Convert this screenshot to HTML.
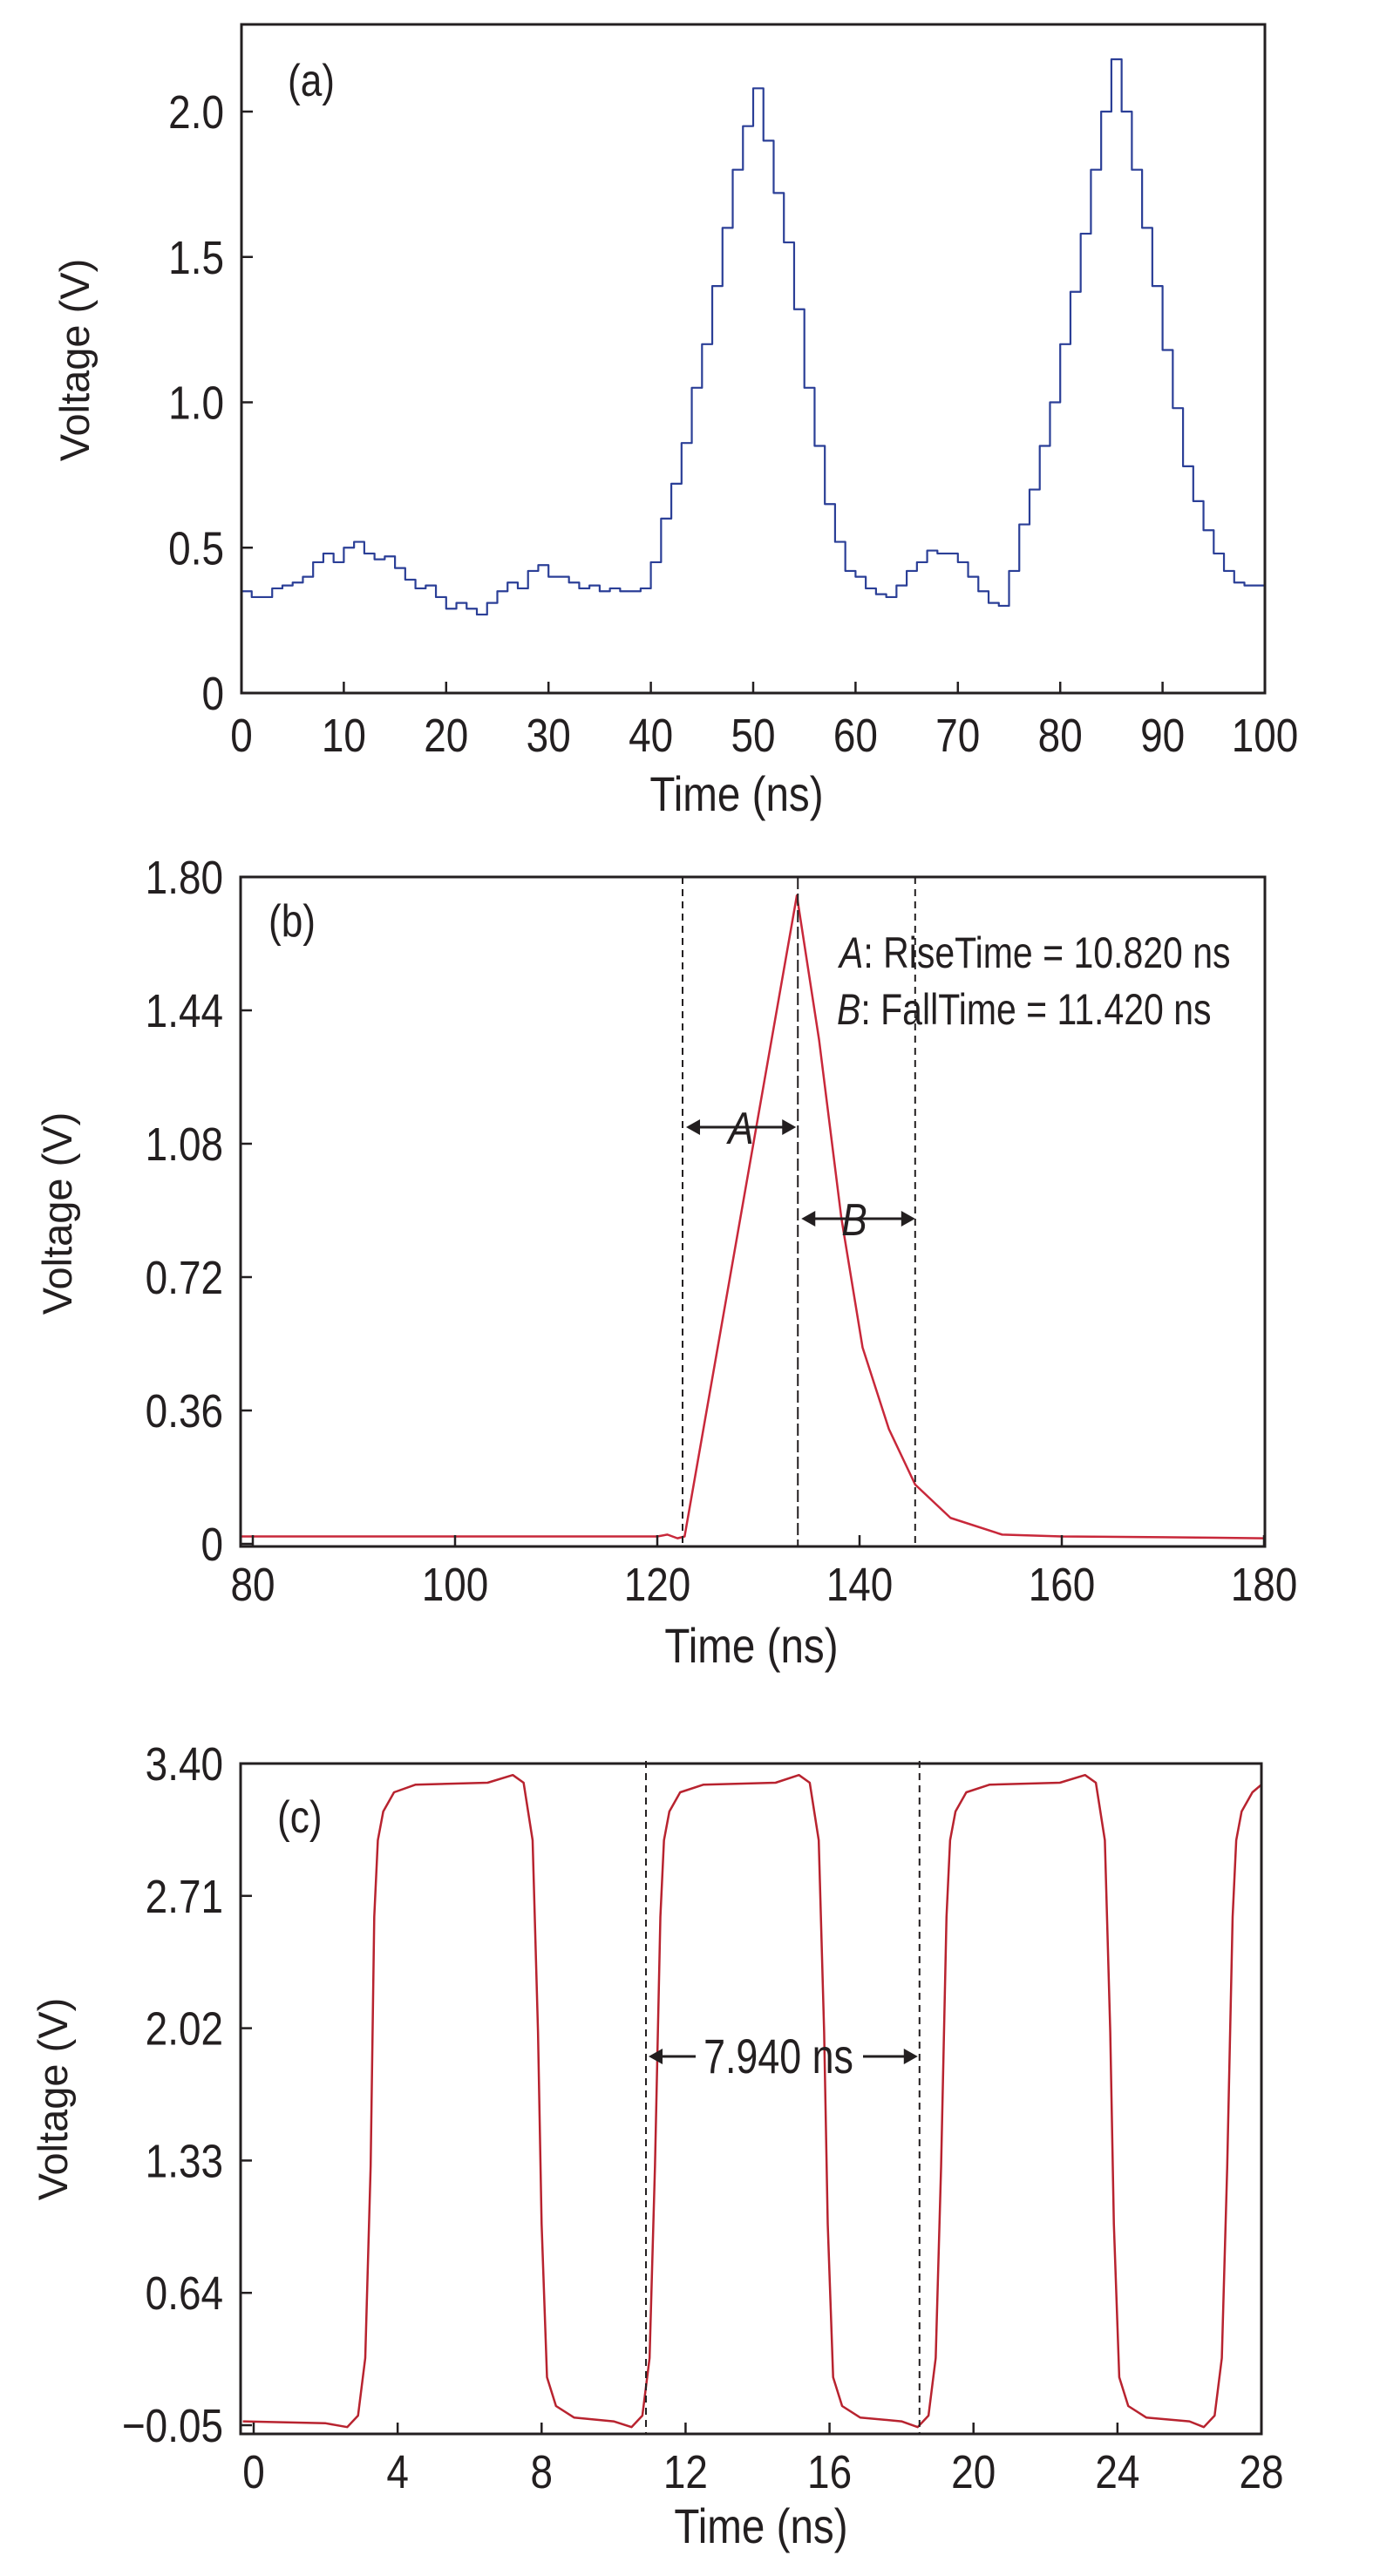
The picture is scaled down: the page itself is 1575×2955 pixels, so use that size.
<!DOCTYPE html>
<html><head><meta charset="utf-8"><style>
html,body{margin:0;padding:0;background:#fff;}
svg{display:block;}
</style></head><body>
<svg id="fig" width="1575" height="2955" viewBox="0 0 1575 2955" xmlns="http://www.w3.org/2000/svg"></svg>
<script>
// ---------- Panel (a) data ----------
const aTimes = [0,1,2,3,4,5,6,7,8,9,10,11,12,13,14,15,16,17,18,19,20,21,22,23,24,25,26,27,28,29,30,31,32,33,34,35,36,37,38,39,40,41,42,43,44,45,46,47,48,49,50,51,52,53,54,55,56,57,58,59,60,61,62,63,64,65,66,67,68,69,70,71,72,73,74,75,76,77,78,79,80,81,82,83,84,85,86,87,88,89,90,91,92,93,94,95,96,97,98,99,100];
const aVolts = [0.35,0.33,0.33,0.36,0.37,0.38,0.40,0.45,0.48,0.45,0.50,0.52,0.48,0.46,0.47,0.43,0.39,0.36,0.37,0.33,0.29,0.31,0.29,0.27,0.31,0.35,0.38,0.36,0.42,0.44,0.40,0.40,0.38,0.36,0.37,0.35,0.36,0.35,0.35,0.36,0.45,0.60,0.72,0.86,1.05,1.20,1.40,1.60,1.80,1.95,2.08,1.90,1.72,1.55,1.32,1.05,0.85,0.65,0.52,0.42,0.40,0.36,0.34,0.33,0.37,0.42,0.45,0.49,0.48,0.48,0.45,0.40,0.35,0.31,0.30,0.42,0.58,0.70,0.85,1.00,1.20,1.38,1.58,1.80,2.00,2.18,2.00,1.80,1.60,1.40,1.18,0.98,0.78,0.66,0.56,0.48,0.42,0.38,0.37,0.37,0.35];
const aXTicks = [0,10,20,30,40,50,60,70,80,90,100];
const aYTicks = [0,0.5,1.0,1.5,2.0];
const aYLabels = ["0","0.5","1.0","1.5","2.0"];

// ---------- Panel (b) data ----------
const bTimes = [78.8,100,120,121,122,122.7,133.8,136.0,138.2,140.3,142.9,145.5,149.0,154.1,160,170,180];
const bVolts = [0.02,0.02,0.02,0.025,0.015,0.02,1.75,1.36,0.88,0.53,0.31,0.16,0.07,0.025,0.02,0.018,0.015];
const bXTicks = [80,100,120,140,160,180];
const bYTicks = [0,0.36,0.72,1.08,1.44,1.80];
const bYLabels = ["0","0.36","0.72","1.08","1.44","1.80"];
const bMarkers = [122.5,133.9,145.5];

// ---------- Panel (c) data ----------
const cTimes = [-0.3,2.0,2.6,2.9,3.1,3.25,3.35,3.45,3.6,3.9,4.5,6.5,7.2,7.5,7.75,7.9,8.0,8.15,8.4,8.9,10.0,10.5,10.8,11.0,11.15,11.3,11.4,11.55,11.85,12.5,14.5,15.15,15.45,15.7,15.85,15.95,16.1,16.35,16.85,18.0,18.45,18.75,18.95,19.1,19.25,19.35,19.5,19.8,20.45,22.4,23.1,23.4,23.65,23.8,23.9,24.05,24.3,24.8,26.0,26.4,26.7,26.9,27.05,27.2,27.3,27.45,27.75,28.0];
const cVolts = [-0.03,-0.04,-0.06,0.0,0.3,1.3,2.6,3.0,3.15,3.25,3.29,3.30,3.34,3.30,3.0,2.0,1.0,0.2,0.05,-0.01,-0.03,-0.06,0.0,0.3,1.3,2.6,3.0,3.15,3.25,3.29,3.30,3.34,3.30,3.0,2.0,1.0,0.2,0.05,-0.01,-0.03,-0.06,0.0,0.3,1.3,2.6,3.0,3.15,3.25,3.29,3.30,3.34,3.30,3.0,2.0,1.0,0.2,0.05,-0.01,-0.03,-0.06,0.0,0.3,1.3,2.6,3.0,3.15,3.25,3.29];
const cXTicks = [0,4,8,12,16,20,24,28];
const cYTicks = [-0.05,0.64,1.33,2.02,2.71,3.40];
const cYLabels = ["\u22120.05","0.64","1.33","2.02","2.71","3.40"];
const cMarkers = [10.9,18.5];

const NS = "http://www.w3.org/2000/svg";
const svg = document.getElementById('fig');
function mk(tag, attrs, parent){
  const e = document.createElementNS(NS, tag);
  for (const k in attrs) e.setAttribute(k, attrs[k]);
  (parent||svg).appendChild(e);
  return e;
}
function txt(str, x, y, size, anchor, parent, opts){
  opts = opts || {};
  const sx = opts.sx || 0.85;
  const t = mk('text', {x:0, y:0, 'font-size':size, 'text-anchor':anchor, 'font-family':'"Liberation Sans", sans-serif', fill:'#231f20', transform:`translate(${x},${y}) scale(${sx},1)`}, parent);
  if (opts.italic) t.setAttribute('font-style','italic');
  t.textContent = str;
  return t;
}
function makeScale(d0,d1,r0,r1){ return v => r0 + (v-d0)/(d1-d0)*(r1-r0); }

function panel(cfg){
  const g = mk('g', {});
  
  
  const X = makeScale(cfg.xd[0], cfg.xd[1], cfg.xr[0], cfg.xr[1]);
  const Y = makeScale(cfg.yd[0], cfg.yd[1], cfg.B0, cfg.T0);
  let d = '';
  if (cfg.step){
    cfg.xs.forEach((t,i)=>{
      const x0 = X(t), x1 = X(Math.min(t+1, cfg.xd[1]));
      const y = Y(cfg.ys[i]);
      d += (i===0 ? `M${x0},${y}` : `V${y}`) + `H${x1}`;
    });
  } else {
    cfg.xs.forEach((t,i)=>{ d += (i===0?'M':'L') + X(t) + ',' + Y(cfg.ys[i]); });
  }
  const clip = mk('clipPath', {id:'clip-'+cfg.name}, g);
  mk('rect', {x:cfg.L, y:cfg.T, width:cfg.R-cfg.L, height:cfg.B-cfg.T}, clip);
  const p = mk('path', {d, fill:'none', stroke:cfg.color, 'stroke-width':cfg.sw, 'stroke-linejoin':'round', 'clip-path':`url(#clip-${cfg.name})`}, g);
  
  
  const fr = mk('rect', {x:cfg.L, y:cfg.T, width:cfg.R-cfg.L, height:cfg.B-cfg.T, fill:'none', stroke:'#231f20', 'stroke-width':3}, g);
  
  
  const xg = mk('g', {}, g);
  
  
  cfg.xt.forEach(v=>{
    const x = X(v);
    mk('line', {x1:x, x2:x, y1:cfg.B, y2:cfg.B-13, stroke:'#231f20', 'stroke-width':2.5}, xg);
    const t = txt(String(v), x, cfg.xLabY, 54, 'middle', xg);
    
    
  });
  const yg = mk('g', {}, g);
  
  
  cfg.yt.forEach((v,i)=>{
    const y = Y(v);
    mk('line', {x1:cfg.L, x2:cfg.L+13, y1:y, y2:y, stroke:'#231f20', 'stroke-width':2.5}, yg);
    const t = txt(cfg.yl[i], cfg.L-20, y+19, 54, 'end', yg);
    
    
  });
  const xt = txt('Time (ns)', cfg.xTitle[0], cfg.xTitle[1], 56, 'middle', g);
  
  
  const yt = mk('text', {x:0, y:0, 'font-size':47, 'text-anchor':'middle', 'font-family':'"Liberation Sans", sans-serif', fill:'#231f20', transform:`translate(${cfg.yTitle[0]},${cfg.yTitle[1]}) rotate(-90)`}, g);
  yt.textContent = 'Voltage (V)';
  
  
  const pl = txt(cfg.label, cfg.labPos[0], cfg.labPos[1], 52, 'start', g);
  
  
  return {g, X, Y};
}

function arrowHead(g, x, y, dir){
  mk('polygon', {points:`${x},${y} ${x-dir*16},${y-9} ${x-dir*16},${y+9}`, fill:'#231f20'}, g);
}

// Panel a
panel({name:'panel-a', xs:aTimes, ys:aVolts, step:true, xd:[0,100], xr:[277,1451], yd:[0,2.0], L:277, R:1451, T:28, B:795, B0:795, T0:128,
  color:'#2b3f97', sw:2.2, xt:aXTicks, yt:aYTicks, yl:aYLabels, xLabY:862, xTitle:[845,930], yTitle:[102,413], label:'(a)', labPos:[330,110]});

// Panel b
panel({name:'panel-b', xs:bTimes, ys:bVolts, step:false, xd:[80,180], xr:[290,1450], yd:[0,1.8], L:276, R:1451, T:1006, B:1774, B0:1771, T0:1006,
  color:'#c8283a', sw:2.5, xt:bXTicks, yt:bYTicks, yl:bYLabels, xLabY:1836, xTitle:[862,1907], yTitle:[82,1392], label:'(b)', labPos:[308,1074]});
(function(){
  const gm = mk('g', {});
  
  
  const X = makeScale(80,180,290,1450);
  bMarkers.forEach((m,i)=>{
    const l = mk('line', {x1:X(m), x2:X(m), y1:1006, y2:1774, stroke:'#231f20', 'stroke-width':2, 'stroke-dasharray': i===1 ? '14,5' : '8,6'}, gm);
    
    
  });
  // arrow A
  let xa = X(bMarkers[0])+4, xb = X(bMarkers[1])-2, y = 1293;
  mk('line', {x1:xa+10, x2:xb-10, y1:y, y2:y, stroke:'#231f20', 'stroke-width':3}, gm);
  arrowHead(gm, xa, y, -1); arrowHead(gm, xb, y, 1);
  // arrow B
  xa = X(bMarkers[1])+4; xb = X(bMarkers[2]); y = 1398;
  mk('line', {x1:xa+10, x2:xb-10, y1:y, y2:y, stroke:'#231f20', 'stroke-width':3}, gm);
  arrowHead(gm, xa, y, -1); arrowHead(gm, xb, y, 1);
  const ta = txt('A', 850, 1312, 52, 'middle', gm, {italic:true});
  
  
  const tb = txt('B', 980, 1417, 52, 'middle', gm, {italic:true});
  
  
  const r1 = mk('text', {x:0,y:0,'font-size':50,'font-family':'"Liberation Sans", sans-serif',fill:'#231f20',transform:'translate(963,1110) scale(0.82,1)'}, gm);
  r1.innerHTML = '<tspan font-style="italic">A</tspan>: RiseTime = 10.820 ns';
  
  
  const r2 = mk('text', {x:0,y:0,'font-size':50,'font-family':'"Liberation Sans", sans-serif',fill:'#231f20',transform:'translate(960,1175) scale(0.82,1)'}, gm);
  r2.innerHTML = '<tspan font-style="italic">B</tspan>: FallTime = 11.420 ns';
  
  
})();

// Panel c
panel({name:'panel-c', xs:cTimes, ys:cVolts, step:false, xd:[0,28], xr:[291,1447], yd:[-0.05,3.40], L:276, R:1447, T:2023, B:2792, B0:2782, T0:2023,
  color:'#b8232f', sw:2.5, xt:cXTicks, yt:cYTicks, yl:cYLabels, xLabY:2854, xTitle:[873,2917], yTitle:[77,2408], label:'(c)', labPos:[318,2102]});
(function(){
  const gm = mk('g', {});
  
  
  const X = makeScale(0,28,291,1447);
  cMarkers.forEach(m=>{
    const l = mk('line', {x1:X(m), x2:X(m), y1:2020, y2:2792, stroke:'#231f20', 'stroke-width':2, 'stroke-dasharray':'8,6'}, gm);
    
    
  });
  const x1 = X(cMarkers[0])+3, x2 = X(cMarkers[1])-2, y = 2359;
  mk('line', {x1:x1+10, x2:798, y1:y, y2:y, stroke:'#231f20', 'stroke-width':3}, gm);
  mk('line', {x1:990, x2:x2-10, y1:y, y2:y, stroke:'#231f20', 'stroke-width':3}, gm);
  arrowHead(gm, x1, y, -1); arrowHead(gm, x2, y, 1);
  const t = txt('7.940 ns', 893, 2378, 56, 'middle', gm, {sx:0.8});
  
  
})();
</script>
</body></html>
